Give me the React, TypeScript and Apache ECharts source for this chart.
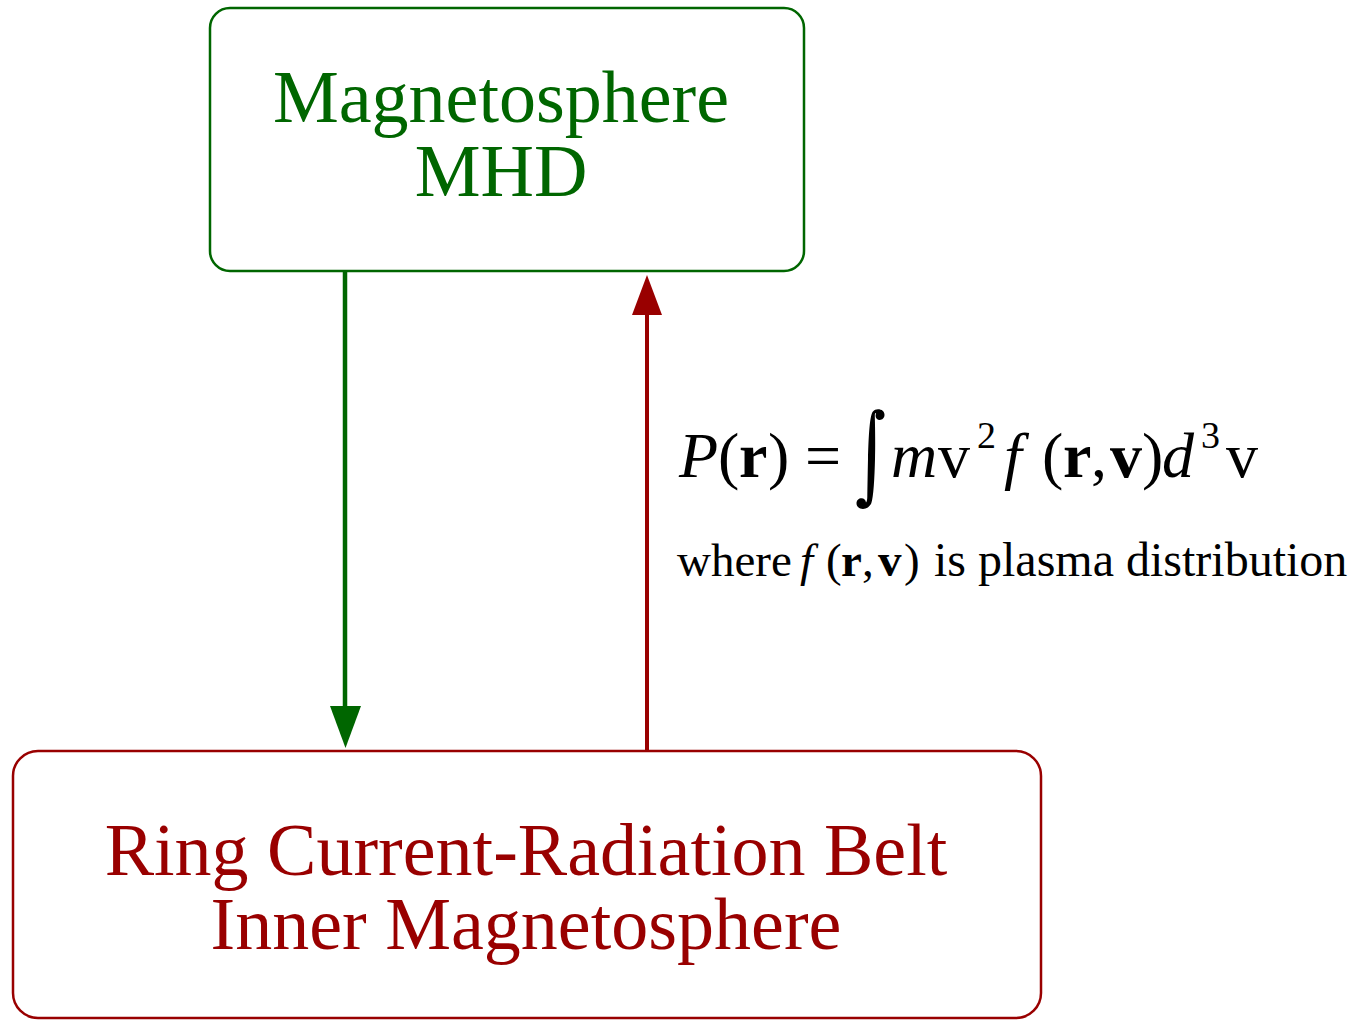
import React, { useEffect, useRef } from "react";
import * as echarts from "echarts";

// ---- content ----
const topBoxLines = ["Magnetosphere", "MHD"];
const bottomBoxLines = ["Ring Current-Radiation Belt", "Inner Magnetosphere"];
const formulaTexts = ["P", "(", "r", ")", "=", "m", "v", "2", "f", "(", "r", ",", "v", ")", "d", "3", "v"];
const formulaKinds = ["i", "n", "b", "n", "n", "i", "n", "sup", "i", "n", "b", "n", "b", "n", "i", "sup", "n"];
const noteTexts = ["where", "f", "(", "r", ",", "v", ")", "is plasma distribution"];
const noteKinds = ["n", "i", "n", "b", "n", "b", "n", "n"];

// ---- layout (separate from content) ----
const formulaX = [679, 718, 739, 768, 805, 891, 938, 977, 1004, 1042, 1063, 1091, 1110, 1142, 1162, 1201, 1226];
const noteX = [677, 800, 826, 841, 862, 878, 904, 934];

const GREEN = "#006600";
const RED = "#990000";
const FONT = '"Liberation Serif", "Times New Roman", Times, serif';

const INTEGRAL_D =
  "M13 50 C13.5 30 14.5 8 17.5 3 C19 1 21 0.3 23 0.3 C26.8 0.3 29.5 2.5 29.5 5.8 C29.5 9 27.2 11 24.8 11 " +
  "C22.2 11 20.6 9 20.6 7 C20.6 5.6 21.2 4.6 20.8 4 C20.2 3.6 19.8 4.4 19.8 7 C20.2 20 20.4 40 20 50 " +
  "C19.5 70 18.5 88 16.3 94.3 C14.7 97.8 11.5 100 8 100 C4.2 100 1.5 97.5 1.5 94.3 C1.5 91.3 3.8 89.3 6.5 89.3 " +
  "C9 89.3 10.8 91.2 11 93.6 C11.8 92.8 12.2 91 12.3 88 C12.5 75 12.8 60 13 50 Z";

let registered = false;
function ensureShapes() {
  if (registered) return;
  echarts.graphic.registerShape("integral", echarts.graphic.extendPath(INTEGRAL_D, {}));
  registered = true;
}

// center y for 'middle' vertical align from an alphabetic baseline
const mid = (baseline: number, fs: number) => baseline - 0.3375 * fs;

function textEl(text: string, x: number, y: number, fs: number, fill: string, extra: any = {}) {
  return {
    type: "text",
    x,
    y,
    style: {
      text,
      fontSize: fs,
      fontFamily: FONT,
      fill,
      align: extra.align || "left",
      verticalAlign: "middle",
      fontStyle: extra.fontStyle || "normal",
      fontWeight: extra.fontWeight || "normal",
      lineHeight: extra.lineHeight,
    },
  };
}

function kindStyle(kind: string) {
  if (kind === "i") return { fontStyle: "italic" };
  if (kind === "b") return { fontWeight: "bold" };
  return {};
}

export default function App() {
  const ref = useRef<HTMLDivElement>(null);
  useEffect(() => {
    if (!ref.current) return;
    ensureShapes();
    const chart = echarts.init(ref.current, null, { renderer: "svg" });
    const els: any[] = [];

    // boxes
    els.push({
      type: "rect",
      shape: { x: 210, y: 8, width: 594, height: 263, r: 20 },
      style: { fill: "#ffffff", stroke: GREEN, lineWidth: 2.5 },
    });
    els.push({
      type: "rect",
      shape: { x: 13, y: 751, width: 1028, height: 267, r: 25 },
      style: { fill: "#ffffff", stroke: RED, lineWidth: 2.5 },
    });

    // arrows
    els.push({ type: "line", shape: { x1: 345, y1: 272, x2: 345, y2: 710 }, style: { stroke: GREEN, lineWidth: 4.5 } });
    els.push({ type: "polygon", shape: { points: [[330, 706], [361, 706], [345.5, 748]] }, style: { fill: GREEN } });
    els.push({ type: "line", shape: { x1: 647, y1: 311, x2: 647, y2: 750 }, style: { stroke: RED, lineWidth: 4 } });
    els.push({ type: "polygon", shape: { points: [[632, 315], [662, 315], [647, 275]] }, style: { fill: RED } });

    // box texts (two lines each, one text element, 74px line pitch)
    const LH = 74;
    els.push(textEl(topBoxLines.join("\n"), 501, (mid(122, 74) + mid(196, 74)) / 2, 74, GREEN, { align: "center", lineHeight: LH }));
    els.push(textEl(bottomBoxLines.join("\n"), 526, (mid(875, 74) + mid(949, 74)) / 2, 74, RED, { align: "center", lineHeight: LH }));

    // formula
    formulaTexts.forEach((t, i) => {
      const k = formulaKinds[i];
      if (k === "sup") {
        els.push(textEl(t, formulaX[i], mid(448, 38), 38, "#000"));
      } else {
        els.push(textEl(t, formulaX[i], mid(477, 64), 64, "#000", kindStyle(k)));
      }
    });
    els.push({ type: "integral", x: 855, y: 409, style: { fill: "#000" } });

    // note
    noteTexts.forEach((t, i) => {
      const fs = i === noteTexts.length - 1 ? 48 : 47;
      els.push(textEl(t, noteX[i], mid(576, fs), fs, "#000", kindStyle(noteKinds[i])));
    });

    chart.setOption({ animation: false, graphic: { elements: els } });
    return () => chart.dispose();
  }, []);
  return (
    <div
      ref={ref}
      style={{ position: "absolute", left: 0, top: 0, width: 1363, height: 1020, background: "#ffffff" }}
    />
  );
}
